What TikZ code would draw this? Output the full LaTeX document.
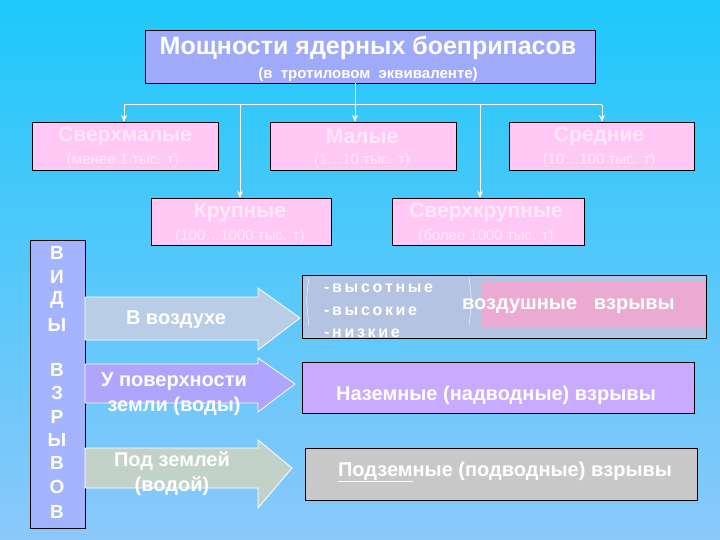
\documentclass[tikz,border=0pt]{standalone}
\usepackage{fontspec}
\setmainfont{Liberation Sans}
\usetikzlibrary{arrows.meta}
\definecolor{bgA}{RGB}{30,200,250}
\definecolor{bgB}{RGB}{140,200,250}
\definecolor{titleF}{RGB}{160,170,250}
\definecolor{pinkF}{RGB}{255,200,245}
\definecolor{pinkT}{RGB}{255,232,252}
\definecolor{vidF}{RGB}{165,180,255}
\definecolor{arA}{RGB}{185,205,230}
\definecolor{arB}{RGB}{175,165,255}
\definecolor{arC}{RGB}{195,210,200}
\definecolor{rA}{RGB}{180,195,225}
\definecolor{rAin}{RGB}{235,170,210}
\definecolor{rB}{RGB}{200,170,255}
\definecolor{rC}{RGB}{200,200,200}
\begin{document}
\begin{tikzpicture}[x=1pt,y=-1pt,
  pbox/.style={draw=black,fill=pinkF,line width=0.8pt},
  ptxt/.style={text=pinkT,font=\bfseries\fontsize{21}{24}\selectfont,inner sep=0},
  psub/.style={text=pinkT,font=\fontsize{15}{17}\selectfont,inner sep=0},
  wtxt/.style={text=white,font=\bfseries\fontsize{20}{25}\selectfont,align=center,inner sep=0},
  conn/.style={white,line width=1pt,-{Stealth[length=7pt,width=6pt]}},
  arrowshape/.style={draw=white,line width=0.8pt},
  rbox/.style={draw=black,line width=0.8pt}]
\shade[left color=bgA,right color=bgB,shading angle=0] (0,0) rectangle (720,540);
\useasboundingbox (0,0) rectangle (720,540);
% title
\draw[fill=titleF,line width=0.8pt] (145,30) rectangle (595,83);
\node[text=white,font=\bfseries\fontsize{25}{28}\selectfont,inner sep=0] (title) at (368,48) {Мощности ядерных боеприпасов};
\node[text=white,font=\bfseries\fontsize{15}{17}\selectfont,inner sep=0] (tsub) at (368,75) {(в \ тротиловом \ эквиваленте)};
\coordinate (t0) at (355,83);
\coordinate (j) at (355,105);
% boxes
\draw[pbox] (32,122) rectangle (218,170); \coordinate (b1) at (124,122);
\draw[pbox] (270,122) rectangle (456,170); \coordinate (b2) at (355,122);
\draw[pbox] (509,122) rectangle (694,170); \coordinate (b3) at (602,122);
\draw[pbox] (151,198) rectangle (331,245); \coordinate (b4) at (240,198);
\draw[pbox] (392,198) rectangle (584,245); \coordinate (b5) at (480,198);
\node[ptxt] (n1) at (125,136) {Сверхмалые};
\node[psub] (s1) at (123,161) {(менее 1 тыс. т)};
\node[ptxt] (n2) at (362,136) {Малые};
\node[psub] (s2) at (362,161) {(1…10 тыс. т)};
\node[ptxt] (n3) at (599,136) {Средние};
\node[psub] (s3) at (599,161) {(10…100 тыс. т)};
\node[ptxt] (n4) at (240,212) {Крупные};
\node[psub] (s4) at (240,237) {(100…1000 тыс. т)};
\node[ptxt] (n5) at (486,212) {Сверхкрупные};
\node[psub] (s5) at (486,237) {(более 1000 тыс. т)};
\draw[white,line width=1pt] (t0) -- (j);
\draw[white,line width=1pt] (124,105) -- (602,105);
\draw[conn] (124,105) -- (b1);
\draw[conn] (j) -- (b2);
\draw[conn] (602,105) -- (b3);
\draw[conn] (240,105) -- (b4);
\draw[conn] (480,105) -- (b5);
% vertical box
\draw[fill=vidF,line width=0.8pt] (30,240) rectangle (85,528);
\foreach \l/\y in {В/253,И/277,Д/300,Ы/325,В/370,З/393,Р/417,Ы/440,В/463,О/487,В/512}
  \node[text=white,font=\bfseries\fontsize{19}{20}\selectfont,inner sep=0] at (57,\y) {\l};
% arrows
\draw[arrowshape,fill=arA] (85,297) -- (258,297) -- (258,288) -- (300,318) -- (258,350) -- (258,340) -- (85,340) -- cycle;
\draw[arrowshape,fill=arB] (85,364) -- (258,364) -- (258,358) -- (295,384) -- (258,412) -- (258,403) -- (85,403) -- cycle;
\draw[arrowshape,fill=arC] (85,448) -- (258,448) -- (258,440) -- (292,468) -- (258,508) -- (258,488) -- (85,488) -- cycle;
\node[wtxt] (a1) at (176,320) {В воздухе};
\node[wtxt] (a2) at (174,394) {У поверхности\\земли (воды)};
\node[wtxt] (a3) at (172,474) {Под землей\\(водой)};
% right boxes
\draw[rbox,fill=rA] (302,275) rectangle (706,338);
\fill[rAin] (482,282) rectangle (706,328);
\draw[white,line width=0.4pt] (309,278) .. controls (306,300) .. (309,326);
\draw[white,line width=0.4pt] (469,278) .. controls (472,300) .. (469,326);
\node[text=white,font=\bfseries\fontsize{16}{18}\selectfont,inner sep=0,anchor=west] (h1) at (324,288) {-\,в\,ы\,с\,о\,т\,н\,ы\,е};
\node[text=white,font=\bfseries\fontsize{16}{18}\selectfont,inner sep=0,anchor=west] (h2) at (324,311) {-\,в\,ы\,с\,о\,к\,и\,е};
\node[text=white,font=\bfseries\fontsize{16}{18}\selectfont,inner sep=0,anchor=west] (h3) at (324,333) {-\,н\,и\,з\,к\,и\,е};
\node[wtxt,anchor=west] (r1) at (462,306) {воздушные \ \ взрывы};
\draw[rbox,fill=rB] (302,362) rectangle (694,413);
\node[wtxt] (r2) at (496,395) {Наземные (надводные) взрывы};
\draw[rbox,fill=rC] (305,448) rectangle (697,500);
\node[wtxt] (r3) at (505,472) {\underline{Подзем}ные (подводные) взрывы};
\end{tikzpicture}
\end{document}
